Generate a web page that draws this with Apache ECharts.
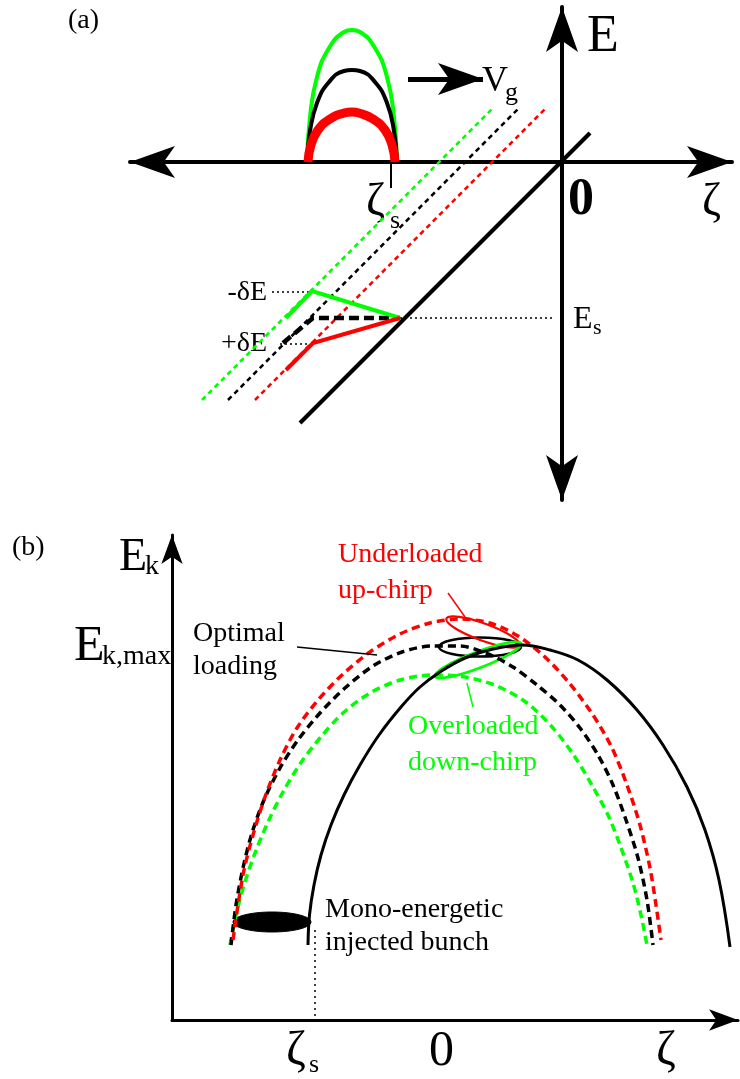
<!DOCTYPE html>
<html><head><meta charset="utf-8">
<script src="https://cdn.jsdelivr.net/npm/echarts@6/dist/echarts.min.js"></script>
<style>html,body{margin:0;padding:0;background:#fff}#c{width:740px;height:1079px}</style>
</head><body><div id="c"></div>
<script>
// ================= DATA =================
// Panel (a): ζ horizontal, E vertical, origin (0,0) at the axis crossing
const aGreenArc = [[-255,0],[-252,45],[-245,85],[-233,114],[-218,130],[-210,132],[-202,130],[-187,114],[-175,85],[-168,45],[-165,0]];
const aBlackArc = [[-255,0],[-252,31],[-245,59],[-233,80],[-218,91],[-210,92],[-202,91],[-187,80],[-175,59],[-168,31],[-165,0]];
const aRedArc   = [[-254,0],[-251,17],[-244,32],[-232,43],[-218,49],[-210,50],[-203,49],[-189,43],[-177,32],[-170,17],[-167,0]];
const aFieldLine   = [[-262,-261],[28,29]];
const aGreenDash   = [[-360,-238],[-69,54]];
const aBlackDash   = [[-334,-238],[-43,54]];
const aRedDash     = [[-307,-238],[-16,54]];
const aGreenSolid  = [[-276,-156],[-250,-129],[-162,-156]];
const aRedSolid    = [[-276,-208],[-249,-181],[-162,-156]];
const aBlackThick  = [[-279,-181],[-249,-156],[-162,-156]];
const aEsDotted    = [[-162,-156],[-7,-156]];
const aMinusDotted = [[-290,-130],[-250,-130]];
const aPlusDotted  = [[-282,-182],[-250,-182]];
const aZetaSTick   = [[-171,0],[-171,-26]];
const aVgArrow     = [[-154,83],[-79,83]]; // shaft start, arrow tip

// Panel (b): ζ horizontal, E_k vertical
const bSolidCurve = [[136,75],[137.5,105],[142,135],[149,165],[159,195],[172,225],[188,255],[207,285],[229,313],[248,333],[268,348],[293,362],[321,371],[350,375],[378,370],[406,360],[435,340],[465,310],[491,275],[515,233],[533,190],[547,140],[558,73]];
const bBlackDash  = [[59,75],[64,115],[71,152],[80,187],[92,220],[108,252],[126,280],[148,307],[173,332],[201,354],[230,368],[260,374],[288,374],[316,366],[341,353],[365,335],[388,315],[408,292],[426,265],[441,235],[454,200],[466,162],[475,120],[481,75]];
const bRedDash    = [[61,80],[66,115],[72,150],[81,185],[93,223],[108,260],[125,292],[146,320],[170,345],[198,368],[228,386],[258,397],[288,401],[318,397],[346,384],[373,363],[398,336],[421,305],[440,272],[455,235],[468,195],[478,152],[484,115],[489,80]];
const bGreenDash  = [[58,75],[64,105],[72,135],[83,167],[96,198],[111,228],[128,256],[148,282],[171,307],[198,327],[228,340],[260,345],[293,343],[325,334],[355,317],[381,292],[403,263],[421,233],[436,205],[448,175],[461,137],[469,105],[475,75]];
// ellipses: [centre ζ, centre E, half-length, half-height, tilt in degrees]
const bBlackEllipse = [[308,373,41,9.5,0]];
const bRedEllipse   = [[311,388,39,8.5,-20]];
const bGreenEllipse = [[306,360,46,8,21]];
const bBunch        = [[100,98,39,10,0]];
const bOptimalLeader = [[125,373],[205,365]];
const bRedLeader     = [[276,427],[293,403]];
const bGreenLeader   = [[295,337],[301,313]];
const bZetaSDotted   = [[143,90],[143,0]];

// ================= STYLE / LAYOUT =================
const SERIF = "'Liberation Serif','DejaVu Serif',serif";
const RED = '#ff0000', GREEN = '#00ff00', BLACK = '#000000';

function ln(g, data, color, width, dash, smooth) {
  return {
    type: 'line', xAxisIndex: g, yAxisIndex: g, data: data,
    symbol: 'none', showSymbol: false, smooth: smooth || false,
    clip: false, silent: true, animation: false,
    lineStyle: { color: color, width: width, type: dash || 'solid', cap: 'butt', join: 'miter' }
  };
}
function ell(data, color, filled, width) {
  return {
    type: 'custom', xAxisIndex: 1, yAxisIndex: 1, data: data, silent: true, animation: false,
    renderItem: function (params, api) {
      const c = api.coord([api.value(0), api.value(1)]);
      const s = api.size([api.value(2), api.value(3)]);
      return {
        type: 'ellipse', x: c[0], y: c[1], rotation: api.value(4) * Math.PI / 180,
        shape: { cx: 0, cy: 0, rx: s[0], ry: s[1] },
        style: filled ? { fill: color, stroke: color, lineWidth: 1 } : { fill: 'none', stroke: color, lineWidth: width }
      };
    }
  };
}

const labelLayout = [
  // text, x, y, size, color, align, weight
  ['(a)', 68, 21, 28, BLACK, 'left', 'normal'],
  ['E', 587, 37, 52, BLACK, 'left', 'normal'],
  ['ζ', 702, 203, 46, BLACK, 'left', 'normal'],
  ['0', 568, 201, 52, BLACK, 'left', 'bold'],
  ['ζ', 366, 203, 46, BLACK, 'left', 'normal'],
  ['s', 390, 221, 26, BLACK, 'left', 'normal'],
  ['V', 482, 82, 36, BLACK, 'left', 'normal'],
  ['g', 505, 93, 26, BLACK, 'left', 'normal'],
  ['-δE', 267, 293, 28, BLACK, 'right', 'normal'],
  ['+δE', 267, 344, 28, BLACK, 'right', 'normal'],
  ['E', 573, 320, 32, BLACK, 'left', 'normal'],
  ['s', 593, 328, 22, BLACK, 'left', 'normal'],
  ['(b)', 12, 548, 28, BLACK, 'left', 'normal'],
  ['E', 119, 558, 46, BLACK, 'left', 'normal'],
  ['k', 145, 567, 28, BLACK, 'left', 'normal'],
  ['E', 74, 647, 50, BLACK, 'left', 'normal'],
  ['k,max', 102, 657, 28, BLACK, 'left', 'normal'],
  ['Optimal', 193, 634, 28, BLACK, 'left', 'normal'],
  ['loading', 193, 667, 28, BLACK, 'left', 'normal'],
  ['Underloaded', 338, 555, 28, RED, 'left', 'normal'],
  ['up-chirp', 338, 591, 28, RED, 'left', 'normal'],
  ['Overloaded', 408, 727, 28, GREEN, 'left', 'normal'],
  ['down-chirp', 408, 763, 28, GREEN, 'left', 'normal'],
  ['Mono-energetic', 325, 910, 28, BLACK, 'left', 'normal'],
  ['injected bunch', 325, 943, 28, BLACK, 'left', 'normal'],
  ['ζ', 286, 1051, 48, BLACK, 'left', 'normal'],
  ['s', 309, 1065, 26, BLACK, 'left', 'normal'],
  ['0', 429, 1052, 50, BLACK, 'left', 'normal'],
  ['ζ', 656, 1051, 48, BLACK, 'left', 'normal']
];

const graphicEls = labelLayout.map(function (t) {
  return {
    type: 'text', x: t[1], y: t[2], silent: true,
    style: { text: t[0], fill: t[4], font: t[6] + ' ' + t[3] + 'px ' + SERIF,
             textAlign: t[5], textVerticalAlign: 'middle' }
  };
});

const axisCommon = {
  axisTick: { show: false }, axisLabel: { show: false }, splitLine: { show: false }
};

const HEAD_A = [24, 45];
const HEAD_B = [16, 29];

const option = {
  backgroundColor: '#ffffff',
  animation: false,
  grid: [
    { left: 130, top: 7, width: 602, height: 493 },
    { left: 172, top: 535, width: 566, height: 485 }
  ],
  xAxis: [
    Object.assign({ type: 'value', gridIndex: 0, min: -432, max: 170,
      axisLine: { show: true, onZero: true, symbol: ['arrow', 'arrow'], symbolSize: HEAD_A, lineStyle: { color: BLACK, width: 4 } } }, axisCommon),
    Object.assign({ type: 'value', gridIndex: 1, min: 0, max: 566,
      axisLine: { show: true, onZero: false, symbol: ['none', 'arrow'], symbolSize: HEAD_B, lineStyle: { color: BLACK, width: 3 } } }, axisCommon)
  ],
  yAxis: [
    Object.assign({ type: 'value', gridIndex: 0, min: -338, max: 155,
      axisLine: { show: true, onZero: true, symbol: ['arrow', 'arrow'], symbolSize: HEAD_A, lineStyle: { color: BLACK, width: 4 } } }, axisCommon),
    Object.assign({ type: 'value', gridIndex: 1, min: 0, max: 485,
      axisLine: { show: true, onZero: false, symbol: ['none', 'arrow'], symbolSize: HEAD_B, lineStyle: { color: BLACK, width: 3 } } }, axisCommon)
  ],
  graphic: { elements: graphicEls },
  series: [
    // panel (a)
    ln(0, aGreenArc, GREEN, 4, 'solid', 0.5),
    ln(0, aBlackArc, BLACK, 4, 'solid', 0.5),
    ln(0, aRedArc, RED, 9, 'solid', 0.5),
    ln(0, aZetaSTick, BLACK, 2),
    ln(0, aFieldLine, BLACK, 4),
    ln(0, aGreenDash, GREEN, 2.5, [5, 4]),
    ln(0, aBlackDash, BLACK, 2.5, [5, 4]),
    ln(0, aRedDash, RED, 2.5, [5, 4]),
    ln(0, aEsDotted, BLACK, 1.5, [2, 3]),
    ln(0, aMinusDotted, BLACK, 1.5, [2, 3]),
    ln(0, aPlusDotted, BLACK, 1.5, [2, 3]),
    ln(0, aBlackThick, BLACK, 4.5, [10, 5]),
    ln(0, aGreenSolid, GREEN, 4),
    ln(0, aRedSolid, RED, 4),
    {
      type: 'line', xAxisIndex: 0, yAxisIndex: 0, data: [], silent: true, animation: false,
      markLine: {
        silent: true, animation: false, symbol: ['none', 'arrow'], symbolSize: HEAD_A,
        label: { show: false }, emphasis: { disabled: true },
        lineStyle: { color: BLACK, width: 5, type: 'solid' },
        data: [[{ coord: aVgArrow[0] }, { coord: aVgArrow[1] }]]
      }
    },
    // panel (b)
    ln(1, bZetaSDotted, BLACK, 1.5, [2, 4]),
    ln(1, bGreenDash, GREEN, 3.5, [8, 5], 0.3),
    ln(1, bBlackDash, BLACK, 3.5, [8, 5], 0.3),
    ln(1, bRedDash, RED, 3.5, [8, 5], 0.3),
    ln(1, bSolidCurve, BLACK, 3, 'solid', 0.4),
    ln(1, bOptimalLeader, BLACK, 1.5),
    ln(1, bRedLeader, RED, 1.5),
    ln(1, bGreenLeader, GREEN, 1.5),
    ell(bBlackEllipse, BLACK, false, 2.5),
    ell(bRedEllipse, RED, false, 2.2),
    ell(bGreenEllipse, GREEN, false, 2.8),
    ell(bBunch, BLACK, true)
  ]
};

const chart = echarts.init(document.getElementById('c'), null, { renderer: 'canvas' });
chart.setOption(option);
</script>
</body></html>
